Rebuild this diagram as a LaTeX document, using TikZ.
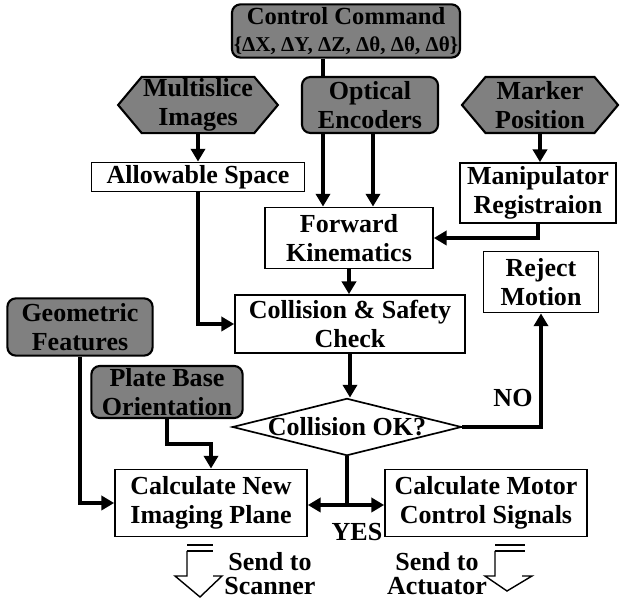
\documentclass[tikz,border=0pt]{standalone}
\usepackage{fontspec}
\setmainfont{Liberation Serif}
\usetikzlibrary{arrows.meta,shapes.geometric,shapes.symbols}

\tikzset{
  box/.style={draw, line width=1.2pt, fill=white, align=center, inner sep=1pt},
  shade/.style={draw, line width=1.5pt, fill=black!50, align=center, inner sep=1pt},
  rnd/.style={shade, rounded corners=6pt},
  hexa/.style={shade, signal, signal to=west and east, signal pointer angle=100},
  decision/.style={draw, diamond, line width=1.2pt, fill=white, inner sep=0pt},
  link/.style={line width=3pt},
  flow/.style={link, -{Triangle[width=10pt,length=9pt]}},
  twoway/.style={link, {Triangle[width=10pt,length=9pt]}-{Triangle[width=10pt,length=9pt]}},
  outline/.style={line width=1pt},
}

\begin{document}
\begin{tikzpicture}[x=0.025cm, y=-0.025cm, font=\bfseries\fontsize{18.5}{21}\selectfont]
  \useasboundingbox (0,0) rectangle (620,603);
  % sources
  \node[rnd, minimum width=5.7cm, minimum height=1.33cm] (cmd) at (346,31)
    {\fontsize{17.5}{20}\selectfont Control Command\\[-2pt]\fontsize{15}{17}\selectfont\{ΔX, ΔY, ΔZ, Δθ, Δθ, Δθ\}};
  \node[hexa, minimum width=3.68cm, minimum height=1.4cm] (slices) at (198,105) {Multislice\\Images};
  \node[rnd, minimum width=3.4cm, minimum height=1.4cm] (enc) at (370,105) {Optical\\Encoders};
  \node[hexa, minimum width=3.9cm, minimum height=1.4cm] (marker) at (540,105) {Marker\\Position};
  \node[rnd, minimum width=3.63cm, minimum height=1.43cm] (geom) at (80,327) {Geometric\\Features};
  \node[rnd, minimum width=3.78cm, minimum height=1.3cm] (plate) at (167,392) {Plate Base\\Orientation};
  % process boxes
  \node[box, minimum width=5.33cm, minimum height=0.73cm] (space) at (198,177) {Allowable Space};
  \node[box, minimum width=3.9cm, minimum height=1.5cm] (reg) at (538,193) {Manipulator\\Registraion};
  \node[box, minimum width=4.2cm, minimum height=1.53cm] (fk) at (349,238) {Forward\\Kinematics};
  \node[box, minimum width=2.88cm, minimum height=1.53cm] (reject) at (541,282) {Reject\\Motion};
  \node[box, minimum width=5.75cm, minimum height=1.45cm] (check) at (350,324) {Collision \& Safety\\Check};
  \node[decision, minimum width=5.73cm, minimum height=1.43cm] (ok) at (347,427) {\makebox[0pt]{Collision OK?}};
  \node[box, minimum width=4.8cm, minimum height=1.68cm] (plane) at (211,503) {Calculate New\\Imaging Plane};
  \node[box, minimum width=5.05cm, minimum height=1.68cm] (motor) at (486,503) {Calculate Motor\\Control Signals};
  % labels
  \node (no) at (513,398) {NO};
  \node (yes) at (357,532) {YES};
  \node[align=center, font=\bfseries\fontsize{18.5}{17}\selectfont] (scan) at (270,574) {Send to\\Scanner};
  \node[align=center, font=\bfseries\fontsize{18.5}{17}\selectfont] (act) at (437,574) {Send to\\Actuator};
  % connectors
  \coordinate (encL) at (323,0);
  \coordinate (encR) at (373,0);
  \coordinate (split) at (347,505);
  \draw[link] (cmd.south -| encL) -- (enc.north -| encL);
  \draw[flow] (enc.south -| encL) -- (fk.north -| encL);
  \draw[flow] (enc.south -| encR) -- (fk.north -| encR);
  \draw[flow] (slices.south) -- (space.north);
  \draw[flow] (marker.south) -- (marker.south |- reg.north);
  \draw[flow] (reg.south) |- (fk.east);
  \draw[flow] (space.south) |- (check.west);
  \draw[flow] (fk.south) -- (fk.south |- check.north);
  \draw[flow] (check.south) -- (check.south |- ok.north);
  \draw[flow] (ok.east) -| (reject.south);
  \draw[link] (ok.south) -- (split);
  \draw[twoway] (split -| plane.east) -- (split -| motor.west);
  \draw[flow] (geom.south) |- (plane.west);
  \draw[flow] (plate.south) -- ++(0,25) -| (plane.north);
  % outgoing arrows
  \draw[outline] (187,545) -- (213,545);
  \draw[outline] (187,551) -- (213,551);
  \draw[outline] (187,551) -- (187,576) -- (175,576) -- (200,597) -- (222,576) -- (213,576);
  \draw[outline] (495,545) -- (525,545);
  \draw[outline] (495,551) -- (525,551);
  \draw[outline] (495,551) -- (495,576) -- (485,576) -- (507,591) -- (532,576) -- (522,576);
\end{tikzpicture}
\end{document}
